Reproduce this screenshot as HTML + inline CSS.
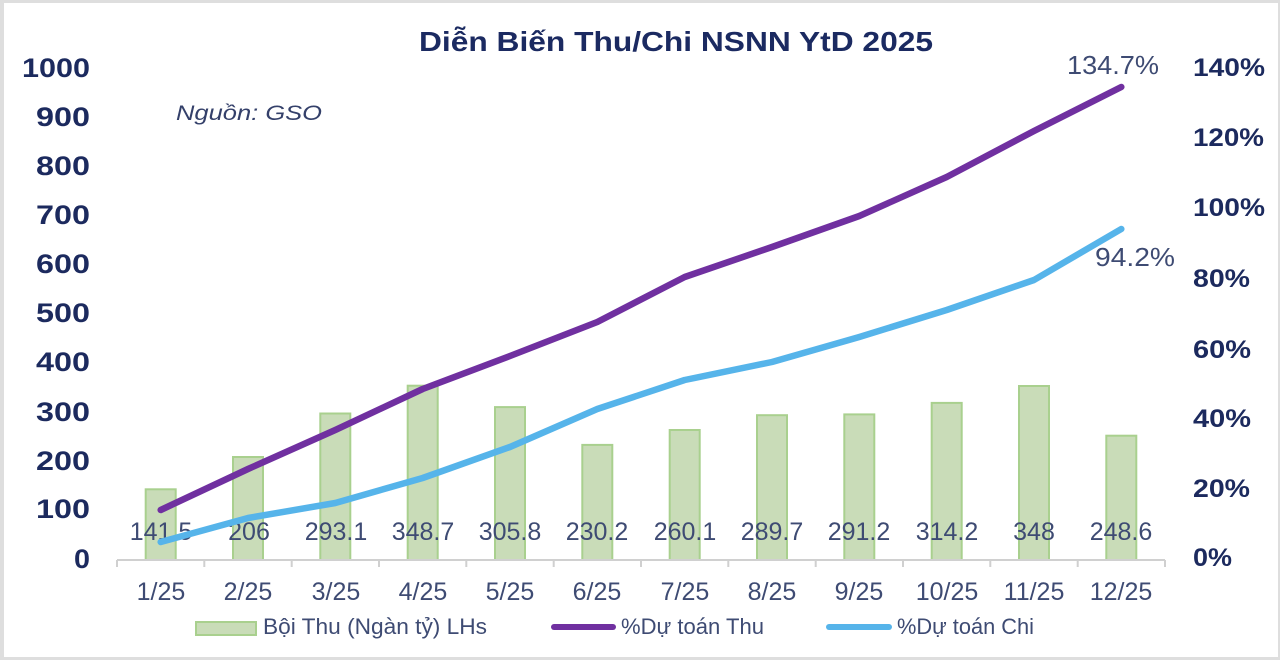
<!DOCTYPE html>
<html>
<head>
<meta charset="utf-8">
<style>
  html, body { margin: 0; padding: 0; background: #dcdcdc; }
  svg { display: block; }
</style>
</head>
<body>
<svg width="1280" height="660" viewBox="0 0 1280 660" xmlns="http://www.w3.org/2000/svg">
  <rect x="0" y="0" width="1280" height="660" fill="#dedede"/>
  <rect x="4" y="3" width="1274" height="654" fill="#ffffff"/>

  <!-- Title -->
  <text x="419" y="51" font-family="Liberation Sans, sans-serif" font-weight="bold" font-size="28" fill="#1b2a61" textLength="514" lengthAdjust="spacingAndGlyphs">Diễn Biến Thu/Chi NSNN YtD 2025</text>

  <!-- Source -->
  <text x="176" y="120" font-family="Liberation Sans, sans-serif" font-style="italic" font-size="21" fill="#34406a" textLength="146" lengthAdjust="spacingAndGlyphs">Nguồn: GSO</text>

  <!-- Left axis labels -->
  <g font-family="Liberation Sans, sans-serif" font-weight="bold" font-size="27" fill="#1c2a5e" text-anchor="end">
    <text x="90" y="77" textLength="68" lengthAdjust="spacingAndGlyphs">1000</text>
    <text x="90" y="126" textLength="54" lengthAdjust="spacingAndGlyphs">900</text>
    <text x="90" y="175" textLength="54" lengthAdjust="spacingAndGlyphs">800</text>
    <text x="90" y="224" textLength="54" lengthAdjust="spacingAndGlyphs">700</text>
    <text x="90" y="273" textLength="54" lengthAdjust="spacingAndGlyphs">600</text>
    <text x="90" y="322" textLength="54" lengthAdjust="spacingAndGlyphs">500</text>
    <text x="90" y="371" textLength="54" lengthAdjust="spacingAndGlyphs">400</text>
    <text x="90" y="421" textLength="54" lengthAdjust="spacingAndGlyphs">300</text>
    <text x="90" y="470" textLength="54" lengthAdjust="spacingAndGlyphs">200</text>
    <text x="90" y="518" textLength="54" lengthAdjust="spacingAndGlyphs">100</text>
    <text x="90" y="568" textLength="16" lengthAdjust="spacingAndGlyphs">0</text>
  </g>

  <!-- Right axis labels -->
  <g font-family="Liberation Sans, sans-serif" font-weight="bold" font-size="25" fill="#1c2a5e">
    <text x="1193" y="76" textLength="72" lengthAdjust="spacingAndGlyphs">140%</text>
    <text x="1193" y="146" textLength="71" lengthAdjust="spacingAndGlyphs">120%</text>
    <text x="1193" y="216" textLength="72" lengthAdjust="spacingAndGlyphs">100%</text>
    <text x="1193" y="287" textLength="57" lengthAdjust="spacingAndGlyphs">80%</text>
    <text x="1193" y="358" textLength="58" lengthAdjust="spacingAndGlyphs">60%</text>
    <text x="1193" y="427" textLength="58" lengthAdjust="spacingAndGlyphs">40%</text>
    <text x="1193" y="497" textLength="57" lengthAdjust="spacingAndGlyphs">20%</text>
    <text x="1193" y="566" textLength="39" lengthAdjust="spacingAndGlyphs">0%</text>
  </g>

  <!-- Bars -->
  <g fill="#c9dcb8" stroke="#a9d08e" stroke-width="2">
    <rect x="145.7" y="489.3" width="30" height="70.7"/>
    <rect x="233" y="457" width="30" height="103"/>
    <rect x="320.3" y="413.5" width="30" height="146.5"/>
    <rect x="407.7" y="385.7" width="30" height="174.3"/>
    <rect x="495" y="407.1" width="30" height="152.9"/>
    <rect x="582.3" y="444.9" width="30" height="115.1"/>
    <rect x="669.7" y="430" width="30" height="130"/>
    <rect x="757" y="415.2" width="30" height="144.8"/>
    <rect x="844.3" y="414.4" width="30" height="145.6"/>
    <rect x="931.7" y="402.9" width="30" height="157.1"/>
    <rect x="1019" y="386" width="30" height="174"/>
    <rect x="1106.3" y="435.7" width="30" height="124.3"/>
  </g>

  <!-- Axis line and ticks -->
  <g stroke="#d0d0d0" stroke-width="2">
    <line x1="117" y1="560" x2="1165" y2="560"/>
    <line x1="117" y1="560" x2="117" y2="567"/>
    <line x1="204.3" y1="560" x2="204.3" y2="567"/>
    <line x1="291.7" y1="560" x2="291.7" y2="567"/>
    <line x1="379" y1="560" x2="379" y2="567"/>
    <line x1="466.3" y1="560" x2="466.3" y2="567"/>
    <line x1="553.7" y1="560" x2="553.7" y2="567"/>
    <line x1="641" y1="560" x2="641" y2="567"/>
    <line x1="728.3" y1="560" x2="728.3" y2="567"/>
    <line x1="815.7" y1="560" x2="815.7" y2="567"/>
    <line x1="903" y1="560" x2="903" y2="567"/>
    <line x1="990.3" y1="560" x2="990.3" y2="567"/>
    <line x1="1077.7" y1="560" x2="1077.7" y2="567"/>
    <line x1="1165" y1="560" x2="1165" y2="567"/>
  </g>

  <!-- Data labels -->
  <g font-family="Liberation Sans, sans-serif" font-size="25" fill="#3e4b73" text-anchor="middle">
    <text x="161" y="540">141.5</text>
    <text x="249" y="540">206</text>
    <text x="336" y="540">293.1</text>
    <text x="423" y="540">348.7</text>
    <text x="510" y="540">305.8</text>
    <text x="597" y="540">230.2</text>
    <text x="685" y="540">260.1</text>
    <text x="772" y="540">289.7</text>
    <text x="859" y="540">291.2</text>
    <text x="947" y="540">314.2</text>
    <text x="1034" y="540">348</text>
    <text x="1121" y="540">248.6</text>
  </g>

  <!-- Lines -->
  <polyline fill="none" stroke="#56b4ea" stroke-width="6.5" stroke-linecap="round" stroke-linejoin="round"
    points="160.7,542 248,518 335.3,503 422.7,478 510,447 597.3,409 684.7,380 772,362 859.3,337 946.7,310 1034,280 1121.3,229"/>
  <polyline fill="none" stroke="#7030a0" stroke-width="6.5" stroke-linecap="round" stroke-linejoin="round"
    points="160.7,510 248,469 335.3,430 422.7,389 510,356 597.3,322 684.7,277 772,247 859.3,216 946.7,177 1034,131 1121.3,87"/>

  <!-- End labels -->
  <text x="1067" y="74" font-family="Liberation Sans, sans-serif" font-size="26" fill="#3e4b73" textLength="92" lengthAdjust="spacingAndGlyphs">134.7%</text>
  <text x="1095" y="266" font-family="Liberation Sans, sans-serif" font-size="26" fill="#3e4b73" textLength="80" lengthAdjust="spacingAndGlyphs">94.2%</text>

  <!-- X axis labels -->
  <g font-family="Liberation Sans, sans-serif" font-size="25" fill="#3e4b73" text-anchor="middle">
    <text x="161" y="600">1/25</text>
    <text x="248" y="600">2/25</text>
    <text x="336" y="600">3/25</text>
    <text x="423" y="600">4/25</text>
    <text x="510" y="600">5/25</text>
    <text x="597" y="600">6/25</text>
    <text x="685" y="600">7/25</text>
    <text x="772" y="600">8/25</text>
    <text x="859" y="600">9/25</text>
    <text x="947" y="600">10/25</text>
    <text x="1034" y="600">11/25</text>
    <text x="1121" y="600">12/25</text>
  </g>

  <!-- Legend -->
  <rect x="196" y="622" width="60" height="13" fill="#c9dcb8" stroke="#a9d08e" stroke-width="2"/>
  <text x="263" y="634" font-family="Liberation Sans, sans-serif" font-size="22" fill="#3e4b73" textLength="224" lengthAdjust="spacingAndGlyphs">Bội Thu (Ngàn tỷ) LHs</text>
  <line x1="554" y1="627" x2="613" y2="627" stroke="#7030a0" stroke-width="6" stroke-linecap="round"/>
  <text x="621" y="634" font-family="Liberation Sans, sans-serif" font-size="22" fill="#3e4b73" textLength="143" lengthAdjust="spacingAndGlyphs">%Dự toán Thu</text>
  <line x1="829" y1="627" x2="889" y2="627" stroke="#56b4ea" stroke-width="6" stroke-linecap="round"/>
  <text x="897" y="634" font-family="Liberation Sans, sans-serif" font-size="22" fill="#3e4b73" textLength="137" lengthAdjust="spacingAndGlyphs">%Dự toán Chi</text>
</svg>
</body>
</html>
